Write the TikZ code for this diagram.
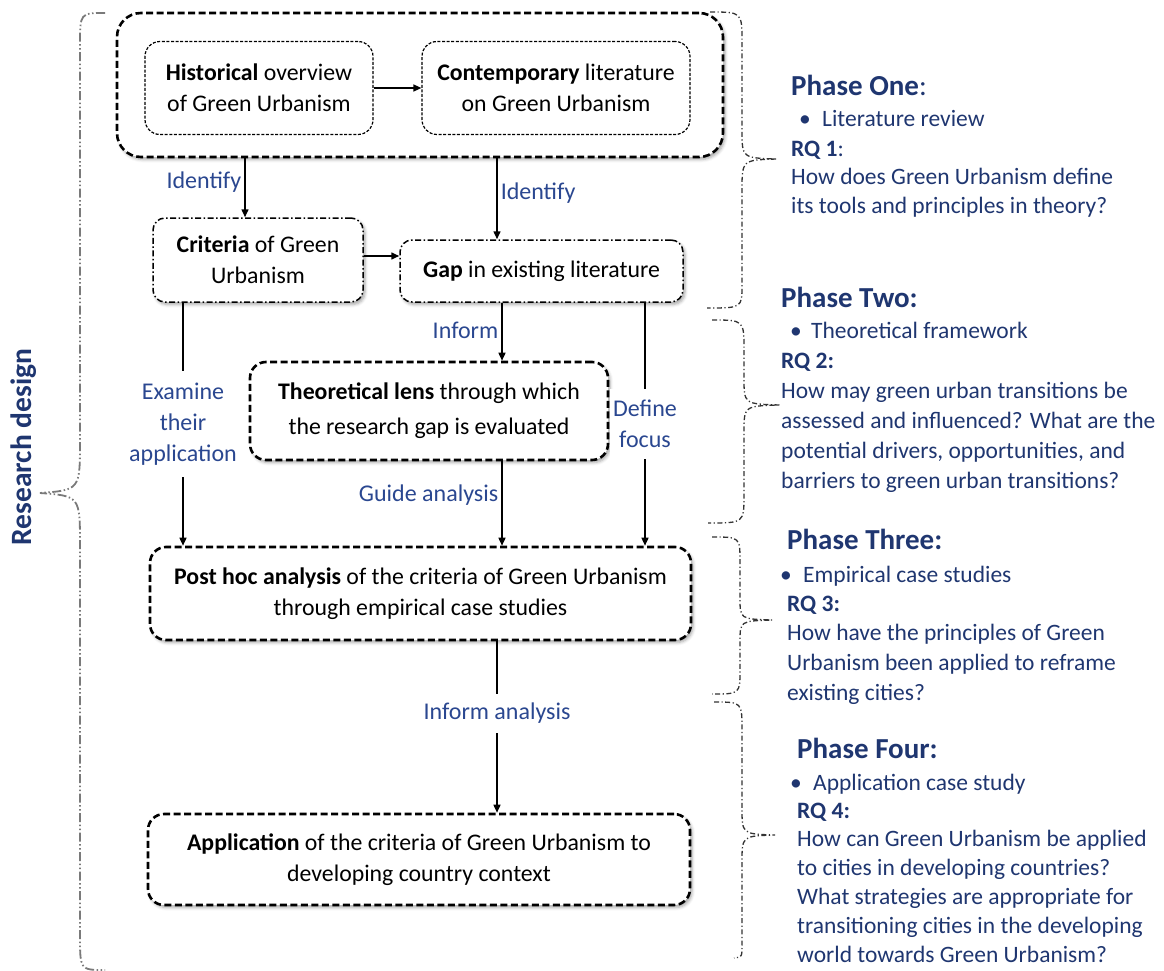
\documentclass[tikz,border=0pt]{standalone}
\usepackage{fontspec}
\setmainfont{Carlito}
\usetikzlibrary{arrows.meta,shadows.blur}

\definecolor{navy}{HTML}{1F3670}
\definecolor{lblue}{HTML}{2A4790}
\definecolor{bracegray}{HTML}{7A7A7A}

% a left-aligned block of lines whose baseline is the first line
\newcommand{\lines}[1]{\begin{tabular}[t]{@{}l@{}}#1\end{tabular}}

\begin{document}
\begin{tikzpicture}[x=1pt,y=-1pt,
  boxtext/.style={font=\fontsize{23.8}{31}\selectfont, align=center, inner sep=0pt},
  softshadow/.style={blur shadow={shadow xshift=2pt, shadow yshift=-2.5pt, shadow blur radius=3pt, shadow opacity=35}},
  outerbox/.style={draw, line width=2.6pt, dash pattern=on 7pt off 3.5pt, rounded corners=24pt, fill=white, softshadow},
  innerbox/.style={boxtext, draw, line width=1.2pt, dash pattern=on 3pt off 1.6pt, rounded corners=15pt, fill=white},
  ddbox/.style={boxtext, draw, line width=1.5pt, dash pattern=on 6pt off 2.5pt on 1.5pt off 2.5pt, rounded corners=12pt, fill=white, softshadow},
  thickbox/.style={boxtext, draw, line width=2.6pt, dash pattern=on 7pt off 3.5pt, rounded corners=16pt, fill=white, softshadow},
  arr/.style={line width=1.5pt, -{Triangle[length=8pt,width=7pt]}},
  lbl/.style={text=lblue, font=\fontsize{24}{31}\selectfont, inner sep=3pt, align=center},
  rbrace/.style={draw=black!80, line width=1.3pt, dash pattern=on 5pt off 2.5pt on 1.2pt off 2.5pt},
  lbrace/.style={draw=bracegray, line width=1.8pt, dash pattern=on 9pt off 2.5pt on 1.5pt off 2.5pt on 1.5pt off 2.5pt},
  ptitle/.style={text=navy, font=\fontsize{29}{32}\selectfont\bfseries, inner sep=0pt, anchor=base west},
  rtext/.style={text=navy, inner sep=0pt, anchor=base west}
]
\useasboundingbox (0,0) rectangle (1164,971);

% ---- left brace and title
\draw[lbrace] (105,13) .. controls (80,13) .. (80,45) -- (80,440)
  .. controls (80,490) .. (40,493) .. controls (80,496) .. (80,546)
  -- (80,935) .. controls (80,970) .. (105,970);
\node[text=navy, font=\fontsize{29.5}{30}\selectfont\bfseries, rotate=90] (rd) at (24,447) {Research design};

% ---- right braces
\draw[rbrace] (710,12) .. controls (742,12) .. (742,42) -- (742,130)
  .. controls (742,158) .. (777,159) .. controls (742,160) .. (742,190)
  -- (742,285) .. controls (742,308) .. (707,308);
\draw[rbrace] (712,320) .. controls (744,320) .. (744,350) -- (744,378)
  .. controls (744,404) .. (780,405) .. controls (744,406) .. (744,432)
  -- (744,495) .. controls (744,523) .. (708,523);
\draw[rbrace] (712,537) .. controls (740,537) .. (740,562) -- (740,598)
  .. controls (740,619) .. (772,620) .. controls (740,621) .. (740,642)
  -- (740,670) .. controls (740,694) .. (712,694);
\draw[rbrace] (714,702) .. controls (742,702) .. (742,730) -- (742,808)
  .. controls (742,834) .. (775,835) .. controls (742,836) .. (742,862)
  -- (742,945) .. controls (742,957) .. (734,958);

% ---- flow boxes
\node[outerbox, minimum width=606pt, minimum height=144pt] (outer) at (420,85) {};
\node[innerbox, minimum width=228pt, minimum height=93pt] (hist) at (259,88)
  {\textbf{Historical} overview\\of Green Urbanism};
\node[innerbox, minimum width=268pt, minimum height=93pt] (cont) at (556,88)
  {\textbf{Contemporary} literature\\on Green Urbanism};
\node[ddbox, minimum width=210pt, minimum height=84pt] (crit) at (258,260)
  {\textbf{Criteria} of Green\\Urbanism};
\node[ddbox, minimum width=283pt, minimum height=62pt] (gap) at (541.5,271)
  {\textbf{Gap} in existing literature};
\node[thickbox, minimum width=358pt, minimum height=98pt] (theo) at (429,411)
  {\textbf{Theoretical lens} through which\\[4pt]the research gap is evaluated};
\node[thickbox, minimum width=541pt, minimum height=93pt] (post) at (420.5,593.5)
  {\textbf{Post hoc analysis} of the criteria of Green Urbanism\\through empirical case studies};
\node[thickbox, minimum width=542pt, minimum height=91pt] (app) at (419,859.5)
  {\textbf{Application} of the criteria of Green Urbanism to\\developing country context};

% ---- connectors
\draw[arr] (hist) -- (cont);
\draw[arr] (outer.south -| 245,0) -- node[lbl, left, pos=0.4] {Identify} (crit.north -| 245,0);
\draw[arr] (outer.south -| 497,0) -- node[lbl, right, pos=0.43] {Identify} (gap.north -| 497,0);
\draw[arr] (crit.east |- 0,256) -- (gap.west |- 0,256);
\draw[arr] (crit.south -| 183,0) -- node[lbl, fill=white, inner ysep=12pt] {Examine\\their\\application} (post.north -| 183,0);
\draw[arr] (gap.south -| 645,0) -- node[lbl, fill=white, inner ysep=11pt] {Define\\focus} (post.north -| 645,0);
\draw[arr] (gap.south -| 502,0) -- node[lbl, left, pos=0.47] {Inform} (theo.north -| 502,0);
\draw[arr] (theo.south -| 502,0) -- node[lbl, left, pos=0.4] {Guide analysis} (post.north -| 502,0);
\draw[arr] (post.south -| 497,0) -- node[lbl, fill=white, inner ysep=9pt, pos=0.42] {Inform analysis} (app.north -| 497,0);

% ---- phases
\node[ptitle] (p1) at (791,96) {Phase One\mdseries:};
\node[rtext, font=\fontsize{23.5}{28}\selectfont] (p1b) at (799,127) {\makebox[23pt][l]{\textbullet}Literature review};
\node[rtext, font=\fontsize{23.5}{28}\selectfont] (p1q) at (791,157)
  {\lines{\textbf{RQ 1}:\\How does Green Urbanism define\\its tools and principles in theory?}};

\node[ptitle] (p2) at (781,307) {Phase Two:};
\node[rtext, font=\fontsize{23.5}{30}\selectfont] (p2b) at (790,338) {\makebox[21pt][l]{\textbullet}Theoretical framework};
\node[rtext, font=\fontsize{23.5}{30}\selectfont] (p2q) at (781,368)
  {\lines{\textbf{RQ 2:}\\How may green urban transitions be\\assessed and influenced? What are the\\potential drivers, opportunities, and\\barriers to green urban transitions?}};

\node[ptitle] (p3) at (787,549) {Phase Three:};
\node[rtext, font=\fontsize{23.5}{29.7}\selectfont] (p3b) at (780,582) {\makebox[23pt][l]{\textbullet}Empirical case studies};
\node[rtext, font=\fontsize{23.5}{29.7}\selectfont] (p3q) at (787,611)
  {\lines{\textbf{RQ 3:}\\How have the principles of Green\\Urbanism been applied to reframe\\existing cities?}};

\node[ptitle] (p4) at (797,758) {Phase Four:};
\node[rtext, font=\fontsize{23.5}{28.8}\selectfont] (p4b) at (790,790) {\makebox[23pt][l]{\textbullet}Application case study};
\node[rtext, font=\fontsize{23.5}{28.8}\selectfont] (p4q) at (797,818)
  {\lines{\textbf{RQ 4:}\\How can Green Urbanism be applied\\to cities in developing countries?\\What strategies are appropriate for\\transitioning cities in the developing\\world towards Green Urbanism?}};
\end{tikzpicture}
\end{document}
